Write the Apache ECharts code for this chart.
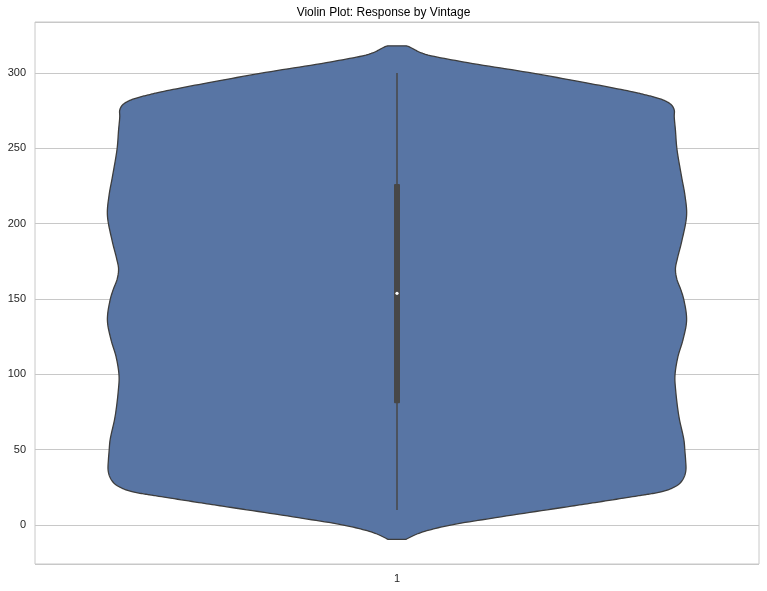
<!DOCTYPE html>
<html>
<head>
<meta charset="utf-8">
<script src="https://cdn.jsdelivr.net/npm/echarts@6/dist/echarts.min.js"></script>
<style>
html,body{margin:0;padding:0;background:#fff;}
#chart{width:767px;height:591px;}
</style>
</head>
<body>
<div id="chart"></div>
<script>
// ---- data ----
var categories = ['1'];
// Response values along the violin outline (bottom to top)
var violinValues = [-9.5, -5.5, -0.7, 4.85, 11.6, 14.9, 19.05, 20.4, 22.1, 24.4, 27.7, 32, 36.5, 43.1, 49, 56.4, 71.9, 89.6, 98.9,
  111.7, 122.8, 136, 149.3, 156, 163, 170, 177, 188, 205.7, 219, 230, 249.6, 262, 271, 275.4,
  278.7, 281.6, 283.9, 285.6, 287.2, 292.4, 300.4, 307.5, 313, 317.5, 318.1];
// Half-width of the violin at each value, in pixels of the reference (max ~290)
var violinHalfWidth = [9, 22, 49, 99, 166, 199, 239, 252, 266, 276, 284, 288.3, 290, 289.7, 289, 288, 283, 279.7, 279,
  282, 287, 290.7, 288, 285, 281, 279.5, 281.5, 285.7, 290.7, 289, 286, 281, 279.5, 278.3, 278.3,
  275.7, 269, 259, 249, 239, 199, 132, 66, 26, 12, 9];
// Box summary: [whiskerLow, q1, median, q3, whiskerHigh]
var boxStats = [10, 80.8, 153.8, 226.3, 300];
var yTickLabels = [0, 50, 100, 150, 200, 250, 300];
var yRange = [-25.9, 333.9];

var maxHalfWidth = Math.max.apply(null, violinHalfWidth);
var violinDensity = violinHalfWidth.map(function (w) { return w / maxHalfWidth; });

// centripetal Catmull-Rom through screen points (for a smooth outline)
function catmullRom(pts, steps) {
  var out = [];
  var n = pts.length;
  function get(i) { return pts[Math.max(0, Math.min(n - 1, i))]; }
  function tj(ti, a, b) {
    var d = Math.sqrt(Math.pow(b[0] - a[0], 2) + Math.pow(b[1] - a[1], 2));
    return ti + Math.max(Math.sqrt(d), 1e-4);
  }
  for (var i = 0; i < n - 1; i++) {
    var p0 = get(i - 1), p1 = get(i), p2 = get(i + 1), p3 = get(i + 2);
    if (i === 0) p0 = [2 * p1[0] - p2[0], 2 * p1[1] - p2[1]];
    if (i === n - 2) p3 = [2 * p2[0] - p1[0], 2 * p2[1] - p1[1]];
    var t0 = 0, t1 = tj(t0, p0, p1), t2 = tj(t1, p1, p2), t3 = tj(t2, p2, p3);
    for (var s = 0; s < steps; s++) {
      var t = t1 + (t2 - t1) * s / steps;
      var pt = [];
      for (var k = 0; k < 2; k++) {
        var A1 = (t1 - t) / (t1 - t0) * p0[k] + (t - t0) / (t1 - t0) * p1[k];
        var A2 = (t2 - t) / (t2 - t1) * p1[k] + (t - t1) / (t2 - t1) * p2[k];
        var A3 = (t3 - t) / (t3 - t2) * p2[k] + (t - t2) / (t3 - t2) * p3[k];
        var B1 = (t2 - t) / (t2 - t0) * A1 + (t - t0) / (t2 - t0) * A2;
        var B2 = (t3 - t) / (t3 - t1) * A2 + (t - t1) / (t3 - t1) * A3;
        pt.push((t2 - t) / (t2 - t1) * B1 + (t - t1) / (t2 - t1) * B2);
      }
      out.push(pt);
    }
  }
  out.push(pts[n - 1]);
  return out;
}

var chart = echarts.init(document.getElementById('chart'), null, {renderer: 'canvas'});

function renderViolin(params, api) {
  var band = api.size([1, 0])[0];
  var maxHalf = band * 0.4;
  var cx = api.coord([0, 0])[0];
  var left = [];
  for (var i = 0; i < violinValues.length; i++) {
    var y = api.coord([0, violinValues[i]])[1];
    left.push([cx - violinDensity[i] * maxHalf, y]);
  }
  var smoothLeft = catmullRom(left, 12);
  var smoothRight = smoothLeft.map(function (p) { return [2 * cx - p[0], p[1]]; }).reverse();
  var pts = smoothLeft.concat(smoothRight);
  var wLo = api.coord([0, boxStats[0]])[1];
  var q1 = api.coord([0, boxStats[1]])[1];
  var med = api.coord([0, boxStats[2]])[1];
  var q3 = api.coord([0, boxStats[3]])[1];
  var wHi = api.coord([0, boxStats[4]])[1];
  return {
    type: 'group',
    children: [
      {type: 'polygon', shape: {points: pts},
       style: {fill: '#5875a4', stroke: '#3d3d3d', lineWidth: 1.3, lineJoin: 'round'}},
      {type: 'line', shape: {x1: cx, y1: wLo, x2: cx, y2: wHi},
       style: {stroke: '#474747', lineWidth: 1.5}},
      {type: 'rect', shape: {x: cx - 3, y: q3, width: 6, height: q1 - q3, r: 1},
       style: {fill: '#474747'}},
      {type: 'circle', shape: {cx: cx, cy: med, r: 1.6},
       style: {fill: '#ffffff'}}
    ]
  };
}

chart.setOption({
  animation: false,
  title: {
    text: 'Violin Plot: Response by Vintage',
    left: 'center', top: 2,
    textStyle: {fontFamily: 'Liberation Sans, Arial, sans-serif', fontSize: 12, fontWeight: 'normal', color: '#000'}
  },
  grid: {left: 35, right: 8, top: 22, bottom: 27, show: true, borderColor: '#c8c8c8', borderWidth: 1, backgroundColor: '#fff'},
  xAxis: {
    type: 'category', data: categories, boundaryGap: true,
    axisLine: {show: false}, axisTick: {show: false},
    axisLabel: {fontFamily: 'Liberation Sans, Arial, sans-serif', fontSize: 11, color: '#262626', margin: 9},
    splitLine: {show: false}
  },
  yAxis: {
    type: 'value', min: yRange[0], max: yRange[1], splitNumber: 7,
    axisLine: {show: false}, axisTick: {show: false},
    axisLabel: {
      showMinLabel: false, showMaxLabel: false,
      fontFamily: 'Liberation Sans, Arial, sans-serif', fontSize: 11, color: '#262626', margin: 9,
      formatter: function (v) { return yTickLabels.indexOf(v) >= 0 ? String(v) : ''; }
    },
    splitLine: {show: true, lineStyle: {color: '#c8c8c8', width: 1}}
  },
  series: [{
    type: 'custom',
    renderItem: renderViolin,
    data: [[0, boxStats[2]]],
    clip: false,
    z: 3
  }]
});
</script>
</body>
</html>
